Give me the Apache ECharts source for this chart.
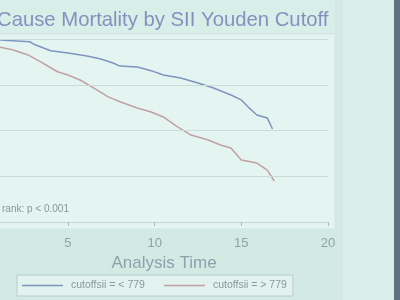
<!DOCTYPE html>
<html>
<head>
<meta charset="utf-8">
<script src="https://cdn.jsdelivr.net/npm/echarts@6/dist/echarts.min.js"></script>
<style>
html,body{margin:0;padding:0;background:#d3e9e4;}
#c{width:400px;height:300px;}
</style>
</head>
<body>
<div id="c"></div>
<script>
// Data (Kaplan-Meier survival estimates)
const seriesNames = ["cutoffsii = < 779", "cutoffsii = > 779"];
const lowTime = [0, 1.1, 2.8, 3.0, 4.0, 5.0, 6.1, 6.9, 7.6, 8.0, 9.0, 9.8, 10.5, 11.5, 12.5, 13.4, 14.4, 15.0, 15.4, 15.9, 16.5, 16.8];
const lowSurv = [1.0, 0.995, 0.985, 0.973, 0.936, 0.923, 0.907, 0.891, 0.869, 0.852, 0.847, 0.827, 0.803, 0.787, 0.760, 0.732, 0.694, 0.667, 0.628, 0.585, 0.568, 0.508];
const highTime = [0, 1.1, 1.85, 2.7, 3.4, 4.4, 5.0, 5.7, 6.5, 7.3, 8.0, 9.0, 9.8, 10.5, 11.3, 12.1, 13.1, 13.8, 14.4, 15.0, 15.9, 16.5, 16.9];
const highSurv = [1.0, 0.955, 0.940, 0.913, 0.876, 0.821, 0.803, 0.776, 0.732, 0.685, 0.657, 0.623, 0.601, 0.574, 0.521, 0.475, 0.448, 0.421, 0.404, 0.339, 0.322, 0.284, 0.224];
const xTicks = [5, 10, 15, 20];
const yGridLines = [0.25, 0.5, 0.75, 1.0];
const titleText = "Cause Mortality by SII Youden Cutoff";
const xAxisTitle = "Analysis Time";
const noteText = "rank: p < 0.001";

const pairs = (t, s) => t.map((v, i) => [v, s[i]]);
const chart = echarts.init(document.getElementById('c'), null, {renderer: 'canvas'});
const font = "'Liberation Sans', Arial, sans-serif";

chart.setOption({
  animation: false,
  backgroundColor: '#d3e9e4',
  textStyle: {fontFamily: font},
  graphic: [
    {type: 'rect', shape: {x: 343, y: 0, width: 52, height: 300}, style: {fill: '#d9eeea'}, z: -10},
    {type: 'rect', shape: {x: 394, y: 0, width: 6, height: 300}, style: {fill: '#5f7282'}, z: -10},
    {type: 'rect', shape: {x: -5, y: 0, width: 340, height: 33}, style: {fill: '#d8eee9'}, z: -9},
    {type: 'rect', shape: {x: -5, y: 34, width: 340, height: 195}, style: {fill: '#e4f4f0', stroke: '#d4e6e2', lineWidth: 1}, z: -8},
    {type: 'text', left: -3, top: 10, style: {text: titleText, font: "20.3px " + font, fill: '#8690c0'}},
    {type: 'text', left: 2, top: 204, style: {text: noteText, font: "10px " + font, fill: '#8c9698'}}
  ],
  grid: {left: 0, right: 72, top: 39, bottom: 78, outerBoundsMode: 'none', containLabel: false},
  xAxis: {
    type: 'value', min: 1.08, max: 20, offset: 7,
    axisLine: {show: true, lineStyle: {color: '#c3d6d3', width: 1}},
    axisTick: {show: true, length: 4, customValues: xTicks, lineStyle: {color: '#a9bcbb'}},
    axisLabel: {show: true, fontSize: 13, color: '#8fa3a8', margin: 8, customValues: xTicks},
    splitLine: {show: false},
    name: xAxisTitle, nameLocation: 'middle', nameGap: 21,
    nameTextStyle: {fontSize: 17, color: '#8ea2ab'}
  },
  yAxis: {
    type: 'value', min: 0, max: 1, interval: 0.25,
    axisLine: {show: false}, axisTick: {show: false}, axisLabel: {show: false},
    splitLine: {show: false}
  },
  legend: {
    show: true, left: 17, top: 275, orient: 'horizontal',
    data: seriesNames,
    icon: 'rect', itemWidth: 41, itemHeight: 1.5, itemGap: 19,
    borderColor: '#b9cbcb', borderWidth: 1, borderRadius: 0,
    backgroundColor: '#e2f2ee',
    padding: [5, 6, 5, 5],
    textStyle: {fontSize: 10.5, color: '#8a98a2', padding: [0, 0, 0, 3]}
  },
  series: [
    {
      name: seriesNames[0], type: 'line', data: pairs(lowTime, lowSurv),
      showSymbol: false, symbol: 'none', clip: true,
      lineStyle: {color: '#7e95c0', width: 1.5}, itemStyle: {color: '#7e95c0'},
      markLine: {
        silent: true, symbol: 'none', label: {show: false},
        lineStyle: {color: '#c9dcd9', width: 1, type: 'solid'},
        data: yGridLines.map(v => ({yAxis: v}))
      },
      z: 3
    },
    {
      name: seriesNames[1], type: 'line', data: pairs(highTime, highSurv),
      showSymbol: false, symbol: 'none', clip: true,
      lineStyle: {color: '#c2a1a3', width: 1.5}, itemStyle: {color: '#c2a1a3'},
      z: 3
    }
  ]
});
</script>
</body>
</html>
